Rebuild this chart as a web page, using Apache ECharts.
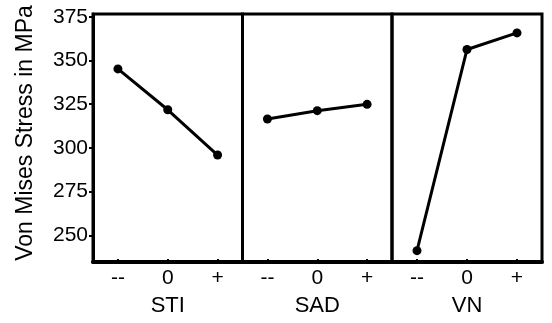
<!DOCTYPE html>
<html>
<head>
<meta charset="utf-8">
<script src="https://cdn.jsdelivr.net/npm/echarts@6/dist/echarts.min.js"></script>
<style>html,body{margin:0;padding:0;background:#fff}#c{width:552px;height:323px}</style>
</head>
<body>
<div id="c"></div>
<script>
const levels = ['--', '0', '+'];
const factors = ['STI', 'SAD', 'VN'];
const sti = [345.2, 321.8, 295.9];
const sad = [316.5, 321.3, 324.9];
const vn = [241.2, 356.3, 365.8];
const yTicks = [250, 275, 300, 325, 350, 375];
const yTitle = 'Von Mises Stress in MPa';

const seriesData = [sti, sad, vn];
const FONT = 'Liberation Sans, Arial, sans-serif';
const lefts = [93, 242.5, 392];
const widths = [149.5, 149.5, 150];

const grids = [], xAxes = [], yAxes = [], series = [];
for (let i = 0; i < 3; i++) {
  grids.push({left: lefts[i], top: 14, width: widths[i], height: 248, show: true,
    borderColor: '#000', borderWidth: 3, backgroundColor: 'transparent'});
  xAxes.push({
    gridIndex: i, type: 'category', data: levels, boundaryGap: true,
    name: factors[i], nameLocation: 'middle', nameGap: 33,
    nameTextStyle: {fontFamily: FONT, fontSize: 22, color: '#000'},
    axisLine: {show: true, lineStyle: {color: '#000', width: 4}},
    axisTick: {show: true, alignWithLabel: true, inside: true, length: 3, lineStyle: {color: '#000', width: 2}},
    axisLabel: {fontFamily: FONT, fontSize: 21, color: '#000', margin: 6},
    splitLine: {show: false}
  });
  yAxes.push({
    gridIndex: i, type: 'value', min: 234.7, max: 376.6,
    name: i === 0 ? yTitle : '', nameLocation: 'middle', nameGap: 56,
    nameTextStyle: {fontFamily: FONT, fontSize: 23, color: '#000', padding: [0, 0, 0, 10]},
    axisLine: {show: i === 0, lineStyle: {color: '#000', width: 3}},
    axisTick: {show: i === 0, length: 4, customValues: yTicks, lineStyle: {color: '#000', width: 2}},
    axisLabel: {show: i === 0, fontFamily: FONT, fontSize: 21, color: '#000', margin: 5, customValues: yTicks},
    splitLine: {show: false}
  });
  series.push({
    type: 'line', xAxisIndex: i, yAxisIndex: i, data: seriesData[i],
    symbol: 'circle', symbolSize: 9,
    lineStyle: {color: '#000', width: 3},
    itemStyle: {color: '#000'},
    animation: false
  });
}

const chart = echarts.init(document.getElementById('c'), null, {renderer: 'canvas'});
chart.setOption({animation: false, grid: grids, xAxis: xAxes, yAxis: yAxes, series: series});
</script>
</body>
</html>
